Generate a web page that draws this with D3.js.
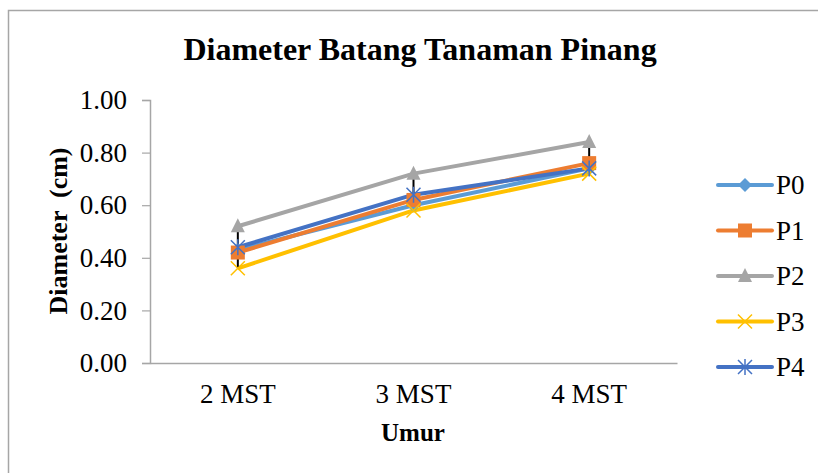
<!DOCTYPE html>
<html>
<head>
<meta charset="utf-8">
<script src="https://cdn.jsdelivr.net/npm/d3@7"></script>
<style>
  body { margin: 0; background: #fff; }
  text { font-family: "Liberation Serif", "Times New Roman", serif; fill: #000; }
</style>
</head>
<body>
<div id="chart"></div>
<script>
var categories = ["2 MST", "3 MST", "4 MST"];
var seriesNames = ["P0", "P1", "P2", "P3", "P4"];
var P0 = [0.43, 0.60, 0.74];
var P1 = [0.42, 0.62, 0.76];
var P2 = [0.52, 0.72, 0.84];
var P3 = [0.36, 0.58, 0.72];
var P4 = [0.44, 0.64, 0.74];
var yTicks = [0, 0.2, 0.4, 0.6, 0.8, 1.0];

function init() {
    var w = 818;
    var h = 473;

    var series = [P0, P1, P2, P3, P4];
    var colors = ["#5b9bd5", "#ed7d31", "#a5a5a5", "#ffc000", "#4472c4"];
    var shapes = ["diamond", "square", "triangle", "x", "star"];

    var svg = d3.select("#chart")
                .append("svg")
                .attr("width", w)
                .attr("height", h);

    // chart border
    svg.append("rect")
        .attr("x", 8.5).attr("y", 10.5)
        .attr("width", w).attr("height", h)
        .attr("fill", "none")
        .attr("stroke", "#a6a6a6")
        .attr("stroke-width", 1.5);

    svg.append("text")
        .attr("x", 420).attr("y", 60)
        .attr("text-anchor", "middle")
        .attr("font-size", 32)
        .attr("font-weight", "bold")
        .text("Diameter Batang Tanaman Pinang");

    var x = d3.scaleBand().domain(categories).range([150, 677]);
    var y = d3.scaleLinear().domain([0, 1]).range([363, 100]);

    // y axis
    var yAxis = svg.append("g")
        .attr("transform", "translate(150,0)")
        .call(d3.axisLeft(y).tickValues(yTicks).tickSize(8).tickPadding(15)
            .tickFormat(d3.format(".2f")));
    yAxis.select(".domain").attr("stroke", "#a6a6a6").attr("stroke-width", 1.5);
    yAxis.selectAll(".tick line").attr("stroke", "#a6a6a6").attr("stroke-width", 1.2);
    yAxis.selectAll(".tick text")
        .attr("font-size", 27)
        .attr("font-family", "Liberation Serif, serif")
        .attr("fill", "#000");

    // x axis
    var xAxis = svg.append("g")
        .attr("transform", "translate(0,363)")
        .call(d3.axisBottom(x).tickSize(0).tickPadding(21));
    xAxis.select(".domain").attr("stroke", "#a6a6a6").attr("stroke-width", 1.5);
    xAxis.selectAll(".tick text")
        .attr("font-size", 27)
        .attr("font-family", "Liberation Serif, serif")
        .attr("fill", "#000");

    svg.append("text")
        .attr("x", 413).attr("y", 441)
        .attr("text-anchor", "middle")
        .attr("font-size", 25)
        .attr("font-weight", "bold")
        .text("Umur");

    svg.append("text")
        .attr("transform", "translate(67,231) rotate(-90)")
        .attr("text-anchor", "middle")
        .attr("font-size", 26)
        .attr("font-weight", "bold")
        .attr("xml:space", "preserve")
        .text("Diameter  (cm)");

    var cx = function(i) { return x(categories[i]) + x.bandwidth() / 2; };

    var line = d3.line()
        .x(function(d, i) { return cx(i); })
        .y(function(d) { return y(d); });

    function drawMarker(g, shape, color, px, py) {
        if (shape === "diamond") {
            g.append("path").attr("d", "M0,-7L7,0L0,7L-7,0Z")
                .attr("transform", "translate(" + px + "," + py + ")")
                .attr("fill", color);
        } else if (shape === "square") {
            g.append("rect").attr("x", px - 7).attr("y", py - 7)
                .attr("width", 14).attr("height", 14).attr("fill", color);
        } else if (shape === "triangle") {
            g.append("path").attr("d", "M0,-8L7,6L-7,6Z")
                .attr("transform", "translate(" + px + "," + py + ")")
                .attr("fill", color);
        } else if (shape === "x") {
            g.append("path").attr("d", "M-7,-7L7,7M-7,7L7,-7")
                .attr("transform", "translate(" + px + "," + py + ")")
                .attr("stroke", color).attr("stroke-width", 1.5);
        } else {
            g.append("path").attr("d", "M-7,-7L7,7M-7,7L7,-7M0,-8L0,8")
                .attr("transform", "translate(" + px + "," + py + ")")
                .attr("stroke", color).attr("stroke-width", 1.5);
        }
    }

    series.forEach(function(s, k) {
        svg.append("path")
            .datum(s)
            .attr("d", line)
            .attr("fill", "none")
            .attr("stroke", colors[k])
            .attr("stroke-width", 4)
            .attr("stroke-linejoin", "round");
    });

    // high-low lines
    categories.forEach(function(c, i) {
        var vals = series.map(function(s) { return s[i]; });
        svg.append("line")
            .attr("x1", cx(i)).attr("x2", cx(i))
            .attr("y1", y(d3.max(vals))).attr("y2", y(d3.min(vals)))
            .attr("stroke", "#000").attr("stroke-width", 2);
    });

    series.forEach(function(s, k) {
        var g = svg.append("g");
        s.forEach(function(v, i) {
            drawMarker(g, shapes[k], colors[k], cx(i), y(v));
        });
    });

    // legend
    var legend = svg.append("g");
    seriesNames.forEach(function(name, k) {
        var ly = 185 + k * 45.5;
        legend.append("line")
            .attr("x1", 718).attr("x2", 772)
            .attr("y1", ly).attr("y2", ly)
            .attr("stroke", colors[k]).attr("stroke-width", 4)
            .attr("stroke-linecap", "round");
        drawMarker(legend, shapes[k], colors[k], 745, ly);
        legend.append("text")
            .attr("x", 776).attr("y", ly + 9)
            .attr("font-size", 27)
            .text(name);
    });
}

window.onload = init;
</script>
</body>
</html>
